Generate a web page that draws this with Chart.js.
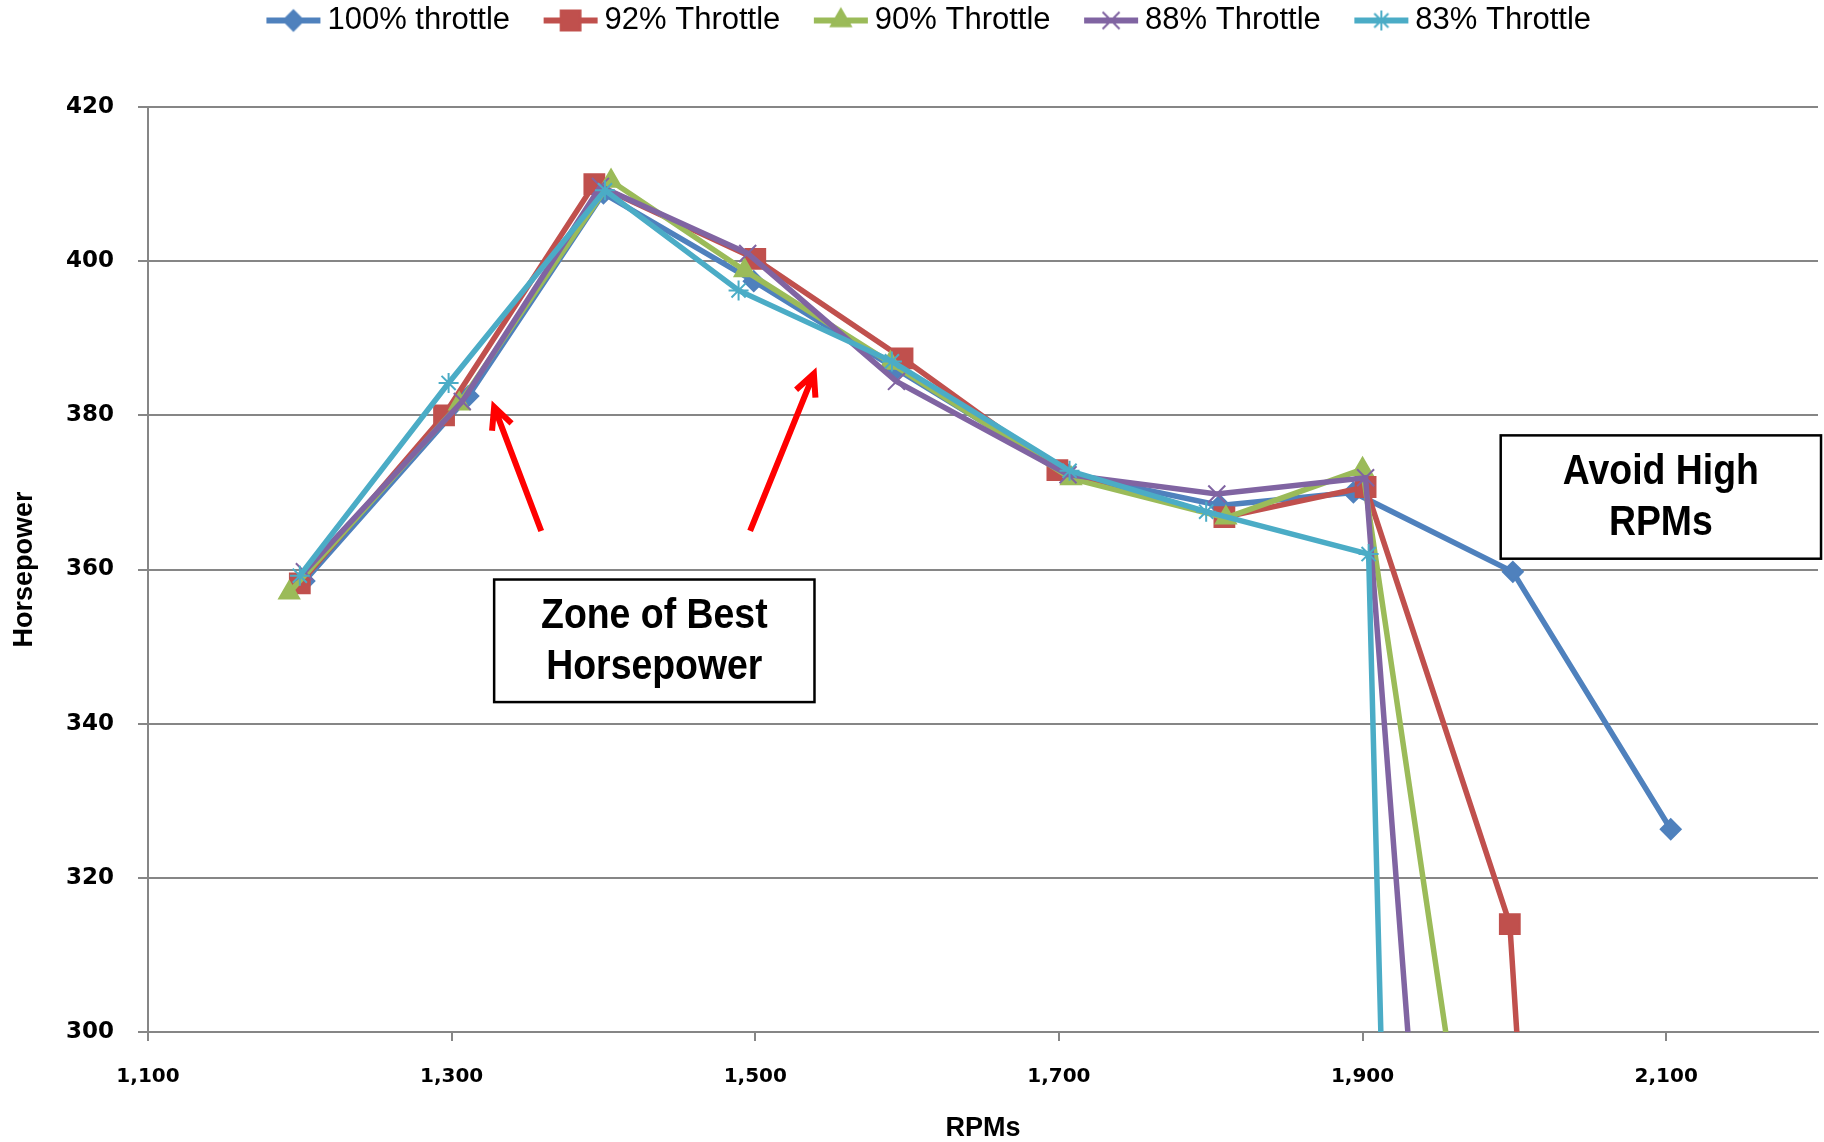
<!DOCTYPE html>
<html>
<head>
<meta charset="utf-8">
<script src="https://cdn.jsdelivr.net/npm/chart.js@4.4.1/dist/chart.umd.min.js"></script>
<style>
  html, body { margin: 0; padding: 0; background: #fff; overflow: hidden; }
  #wrap { width: 1824px; height: 1142px; }
</style>
</head>
<body>
<div id="wrap"><canvas id="hp"></canvas></div>
<script>
// series (RPM, horsepower); last point of the part-throttle runs falls off the axis
const seriesNames = ['100% throttle', '92% Throttle', '90% Throttle', '88% Throttle', '83% Throttle'];
const seriesColors = ['#4F81BD', '#C0504D', '#9BBB59', '#8064A2', '#4BACC6'];
const seriesMarkers = ['rectRot', 'rect', 'triangle', 'crossRot', 'star'];
const markerRadius = [10, 14, 11.5, 12, 10];

const rpm100 = [1203, 1311, 1400, 1499, 1593, 1705, 1806, 1894, 1999, 2103];
const hp100 = [358.5, 382.5, 408.8, 397.4, 386.0, 372.5, 368.3, 370.0, 359.7, 326.3];

const rpm92 = [1200, 1295, 1394, 1500, 1597, 1699, 1809, 1902, 1997, 2100];
const hp92 = [358.2, 380.0, 410.0, 400.3, 387.4, 372.9, 366.8, 370.7, 314.0, 0];

const rpm90 = [1193, 1305, 1405, 1493, 1589, 1708, 1810, 1900, 2180];
const hp90 = [357.0, 381.5, 410.4, 398.8, 386.8, 371.8, 366.7, 373.0, 0];

const rpm88 = [1203, 1307, 1398, 1495, 1593, 1706, 1804, 1902, 2046];
const hp88 = [359.7, 381.8, 409.7, 401.0, 384.4, 372.3, 369.8, 371.9, 0];

const rpm83 = [1200, 1298, 1401, 1489, 1590, 1707, 1797, 1904, 1951];
const hp83 = [359.2, 384.2, 409.2, 396.2, 387.0, 372.8, 367.5, 362.0, 0];

const xTicks = [1100, 1300, 1500, 1700, 1900, 2100];
const yTicks = [300, 320, 340, 360, 380, 400, 420];

// callouts in data coordinates
const notes = [
    {lines: ['Zone of Best', 'Horsepower'], x0: 1328, x1: 1539, y0: 358.7, y1: 342.8},
    {lines: ['Avoid High', 'RPMs'], x0: 1991, x1: 2202, y0: 377.4, y1: 361.4}
];
const arrows = [
    {from: [1359, 365], to: [1328, 381.1]},
    {from: [1496.6, 365], to: [1538.6, 385.4]}
];

const sans = "'Liberation Sans', Arial, sans-serif";
const wide = "'DejaVu Sans', Verdana, sans-serif";

const rpmSets = [rpm100, rpm92, rpm90, rpm88, rpm83];
const hpSets = [hp100, hp92, hp90, hp88, hp83];

function legendIcon(i) {
    const c = document.createElement('canvas');
    c.width = 58;
    c.height = 30;
    const g = c.getContext('2d');
    g.strokeStyle = seriesColors[i];
    g.fillStyle = seriesColors[i];
    g.lineWidth = 6;
    g.beginPath();
    g.moveTo(2, 15);
    g.lineTo(56, 15);
    g.stroke();
    g.lineWidth = 2;
    Chart.helpers.drawPoint(g, {pointStyle: seriesMarkers[i], radius: markerRadius[i], borderWidth: 2, rotation: 0}, 29, 15);
    return c;
}
const legendIcons = seriesNames.map((n, i) => legendIcon(i));

const datasets = seriesNames.map((name, i) => ({
    label: name,
    data: rpmSets[i].map((x, k) => ({x: x, y: hpSets[i][k]})),
    showLine: true,
    borderColor: seriesColors[i],
    backgroundColor: seriesColors[i],
    borderWidth: 5.5,
    pointStyle: seriesMarkers[i],
    pointRadius: markerRadius[i],
    pointBorderWidth: 2,
    pointHoverRadius: markerRadius[i],
    order: seriesNames.length - i
}));

// legend sits higher than Chart.js would put it, with a gap below it
const legendNudge = {
    id: 'legendNudge',
    beforeLayout(chart) {
        const lg = chart.legend;
        if (!lg || lg._nudged) return;
        lg._nudged = true;
        const fit = lg.fit, draw = lg.draw;
        lg.fit = function() { fit.call(this); this.height += 24; };
        lg.draw = function() {
            const ctx = this.ctx;
            ctx.save();
            ctx.translate(24, -37);
            draw.call(this);
            ctx.restore();
        };
    }
};

const calloutPlugin = {
    id: 'callouts',
    afterDatasetsDraw(chart) {
        const ctx = chart.ctx;
        const xs = chart.scales.x;
        const ys = chart.scales.y;
        ctx.save();
        arrows.forEach(a => {
            const x0 = xs.getPixelForValue(a.from[0]), y0 = ys.getPixelForValue(a.from[1]);
            const x1 = xs.getPixelForValue(a.to[0]), y1 = ys.getPixelForValue(a.to[1]);
            const ang = Math.atan2(y1 - y0, x1 - x0);
            ctx.strokeStyle = '#FF0000';
            ctx.lineWidth = 6;
            ctx.beginPath();
            ctx.moveTo(x0, y0);
            ctx.lineTo(x1, y1);
            ctx.moveTo(x1 - 24 * Math.cos(ang - 0.45), y1 - 24 * Math.sin(ang - 0.45));
            ctx.lineTo(x1, y1);
            ctx.lineTo(x1 - 24 * Math.cos(ang + 0.45), y1 - 24 * Math.sin(ang + 0.45));
            ctx.stroke();
        });
        notes.forEach(n => {
            const l = xs.getPixelForValue(n.x0), r = xs.getPixelForValue(n.x1);
            const t = ys.getPixelForValue(n.y0), b = ys.getPixelForValue(n.y1);
            ctx.fillStyle = '#fff';
            ctx.fillRect(l, t, r - l, b - t);
            ctx.strokeStyle = '#000';
            ctx.lineWidth = 2.5;
            ctx.strokeRect(l, t, r - l, b - t);
            ctx.fillStyle = '#000';
            ctx.font = 'bold 43px ' + sans;
            ctx.textAlign = 'center';
            ctx.textBaseline = 'middle';
            const cx = (l + r) / 2, cy = (t + b) / 2;
            n.lines.forEach((txt, k) => {
                ctx.save();
                ctx.translate(cx, cy + (k === 0 ? -25 : 26));
                ctx.scale(0.87, 1);
                ctx.fillText(txt, 0, 0);
                ctx.restore();
            });
        });
        ctx.restore();
    }
};

new Chart(document.getElementById('hp').getContext('2d'), {
    type: 'scatter',
    data: {datasets: datasets},
    plugins: [legendNudge, calloutPlugin],
    options: {
        responsive: true,
        maintainAspectRatio: false,
        animation: false,
        layout: {autoPadding: false, padding: {top: 0, right: 6, left: 0, bottom: 0}},
        plugins: {
            tooltip: {enabled: false},
            legend: {
                position: 'top',
                labels: {
                    color: '#000',
                    font: {family: sans, size: 31},
                    usePointStyle: true,
                    pointStyleWidth: 37,
                    padding: 42,
                    generateLabels(chart) {
                        const items = Chart.defaults.plugins.legend.labels.generateLabels(chart);
                        items.forEach(it => { it.pointStyle = legendIcons[it.datasetIndex]; });
                        return items;
                    },
                    sort: (a, b) => a.datasetIndex - b.datasetIndex
                }
            }
        },
        scales: {
            x: {
                type: 'linear',
                min: 1100,
                max: 2200,
                afterBuildTicks: s => { s.ticks = xTicks.map(v => ({value: v})); },
                afterFit: s => { s.height = 110; s.paddingRight = 0; s.paddingLeft = 0; },
                grid: {drawOnChartArea: false, drawTicks: true, tickLength: 9, color: '#868686', lineWidth: 2},
                border: {display: true, color: '#868686', width: 2},
                ticks: {
                    color: '#000',
                    font: {family: wide, size: 20, weight: 'bold'},
                    padding: 24,
                    maxRotation: 0,
                    callback: v => v.toLocaleString('en-US')
                },
                title: {
                    display: true,
                    text: 'RPMs',
                    color: '#000',
                    font: {family: sans, size: 27, weight: 'bold', lineHeight: 1},
                    padding: {top: 0, bottom: 0}
                }
            },
            y: {
                type: 'linear',
                min: 300,
                max: 420,
                afterBuildTicks: s => { s.ticks = yTicks.map(v => ({value: v})); },
                afterFit: s => { s.width = 148; },
                grid: {color: '#868686', lineWidth: 2, tickLength: 10},
                border: {display: true, color: '#868686', width: 2},
                ticks: {
                    color: '#000',
                    font: {family: wide, size: 23, weight: 'bold'},
                    padding: 24
                },
                title: {
                    display: true,
                    text: 'Horsepower',
                    color: '#000',
                    font: {family: sans, size: 27, weight: 'bold'},
                    padding: {top: 8, bottom: 0}
                }
            }
        }
    }
});
</script>
</body>
</html>
